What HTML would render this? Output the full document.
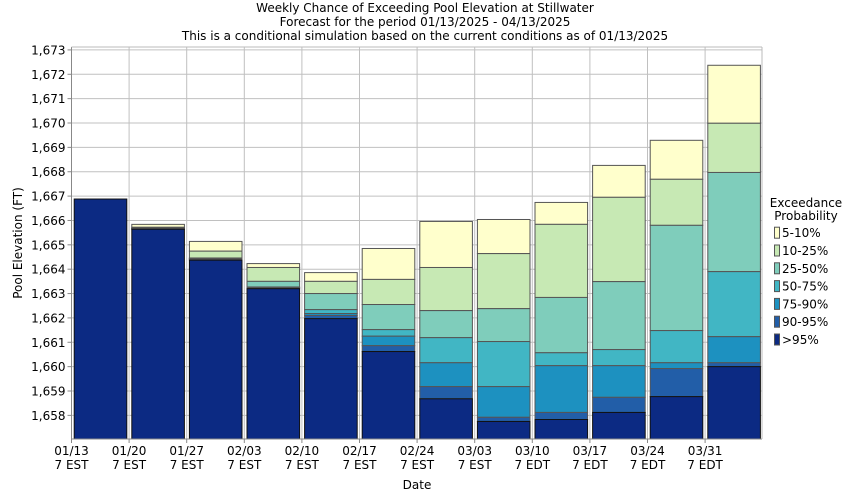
<!DOCTYPE html>
<html><head><meta charset="utf-8"><style>
body{margin:0;background:#fff;}
svg{display:block;font-family:"DejaVu Sans","Liberation Sans",sans-serif;}
</style></head><body>
<svg id="chart" width="850" height="500" xmlns="http://www.w3.org/2000/svg">
<g font-size="12" fill="#000" text-anchor="middle">
<text x="425" y="12">Weekly Chance of Exceeding Pool Elevation at Stillwater</text>
<text x="425" y="26">Forecast for the period 01/13/2025 - 04/13/2025</text>
<text x="425" y="40">This is a conditional simulation based on the current conditions as of 01/13/2025</text>
</g>
<rect x="71.5" y="47" width="690.5" height="392" fill="#fff"/>
<g id="grid"></g>
<g id="bars"></g>
<line x1="71.5" y1="47" x2="71.5" y2="439" stroke="#888"/>
<line x1="71.5" y1="439" x2="762" y2="439" stroke="#888"/>
<line x1="762" y1="47" x2="762" y2="439" stroke="#bbb"/>
<line x1="71.5" y1="47" x2="762" y2="47" stroke="#bbb"/>
<g id="yaxis" font-size="12"></g>
<g id="xaxis" font-size="12"></g>
<text x="22" y="243" font-size="12" text-anchor="middle" transform="rotate(-90 22 243)">Pool Elevation (FT)</text>
<text x="417" y="489" font-size="12" text-anchor="middle">Date</text>
<g id="legend" font-size="12">
<text x="806" y="207" text-anchor="middle">Exceedance</text>
<text x="806" y="220" text-anchor="middle">Probability</text>
</g>
</svg>
<script>
const categories=["01/13","01/20","01/27","02/03","02/10","02/17","02/24","03/03","03/10","03/17","03/24","03/31"];
const tz=["7 EST","7 EST","7 EST","7 EST","7 EST","7 EST","7 EST","7 EST","7 EDT","7 EDT","7 EDT","7 EDT"];
const seriesNames=[">95%","90-95%","75-90%","50-75%","25-50%","10-25%","5-10%"];
const p95=[1666.88,1665.64,1664.37,1663.20,1661.97,1660.62,1658.68,1657.75,1657.83,1658.12,1658.77,1660.00];
const p90=[1666.88,1665.66,1664.40,1663.23,1662.10,1660.86,1659.18,1657.92,1658.12,1658.74,1659.92,1660.16];
const p75=[1666.88,1665.67,1664.42,1663.25,1662.18,1661.25,1660.16,1659.18,1660.04,1660.04,1660.16,1661.23];
const p50=[1666.88,1665.68,1664.44,1663.27,1662.34,1661.52,1661.19,1661.03,1660.57,1660.70,1661.48,1663.90];
const p25=[1666.88,1665.69,1664.46,1663.50,1663.00,1662.55,1662.30,1662.38,1662.84,1663.49,1665.80,1667.97];
const p10=[1666.88,1665.72,1664.74,1664.07,1663.50,1663.58,1664.07,1664.64,1665.84,1666.95,1667.69,1669.99];
const p5=[1666.88,1665.84,1665.14,1664.23,1663.86,1664.85,1665.96,1666.04,1666.74,1668.26,1669.29,1672.37];
const yTicks=[1658,1659,1660,1661,1662,1663,1664,1665,1666,1667,1668,1669,1670,1671,1672,1673];
const yMin=1657.03,yMax=1673.12;
const colors=["#0c2a83","#225ea8","#1d91c0","#41b6c4","#7fcdbb","#c7e9b4","#ffffcc"];
const NS="http://www.w3.org/2000/svg";
const X0=71.5,SLOT=57.6,TOP=47,BOT=439;
function y(v){return BOT-(v-yMin)/(yMax-yMin)*(BOT-TOP);}
function x(i){return X0+i*SLOT;}
function mk(t,a,p){const e=document.createElementNS(NS,t);for(const k in a)e.setAttribute(k,a[k]);p.appendChild(e);return e;}
const grid=document.getElementById('grid'),bars=document.getElementById('bars'),ya=document.getElementById('yaxis'),xa=document.getElementById('xaxis'),lg=document.getElementById('legend');
yTicks.forEach(t=>{
 const l=mk('line',{x1:X0,x2:762,y1:y(t),y2:y(t),stroke:'#c0c0c0'},grid);
 
 
 const tk=mk('line',{x1:X0-4,x2:X0,y1:y(t),y2:y(t),stroke:'#888'},ya);
 
 
 const tx=mk('text',{x:X0-6,y:y(t)+4.5,'text-anchor':'end'},ya);
 tx.textContent=t.toLocaleString('en-US');
 
 
});
categories.forEach((c,i)=>{
 const l=mk('line',{x1:x(i),x2:x(i),y1:TOP,y2:BOT,stroke:'#c0c0c0'},grid);
 
 
 const tk=mk('line',{x1:x(i),x2:x(i),y1:BOT,y2:BOT+4,stroke:'#888'},xa);
 
 
 const t1=mk('text',{x:x(i),y:455,'text-anchor':'middle'},xa);
 t1.textContent=c;
 
 
 const t2=mk('text',{x:x(i),y:469,'text-anchor':'middle'},xa);
 t2.textContent=tz[i];
 
 
});
const series=[p95,p90,p75,p50,p25,p10,p5];
categories.forEach((c,i)=>{
 const x1=x(i)+2.7,w=SLOT-5;
 for(let s=series.length-1;s>=0;s--){
  const top=series[s][i],bot=s===0?yMin:series[s-1][i];
  if(top-bot<=0.0001&&s>0)continue;
  const r=mk('rect',{x:x1,y:y(top),width:w,height:Math.max(0,y(bot)-y(top)),fill:colors[s],stroke:s===0?'#111':'#555','stroke-width':1},bars);
  
  
 }
});
for(let s=6;s>=0;s--){
 const k=6-s,cy=232.7+k*17.8;
 const r=mk('rect',{x:774.5,y:cy-5.5,width:5,height:11,fill:colors[s],stroke:'#555'},lg);
 
 
 const t=mk('text',{x:782,y:cy+4.5},lg);
 t.textContent=seriesNames[s];
 
 
}
</script>
</body></html>
